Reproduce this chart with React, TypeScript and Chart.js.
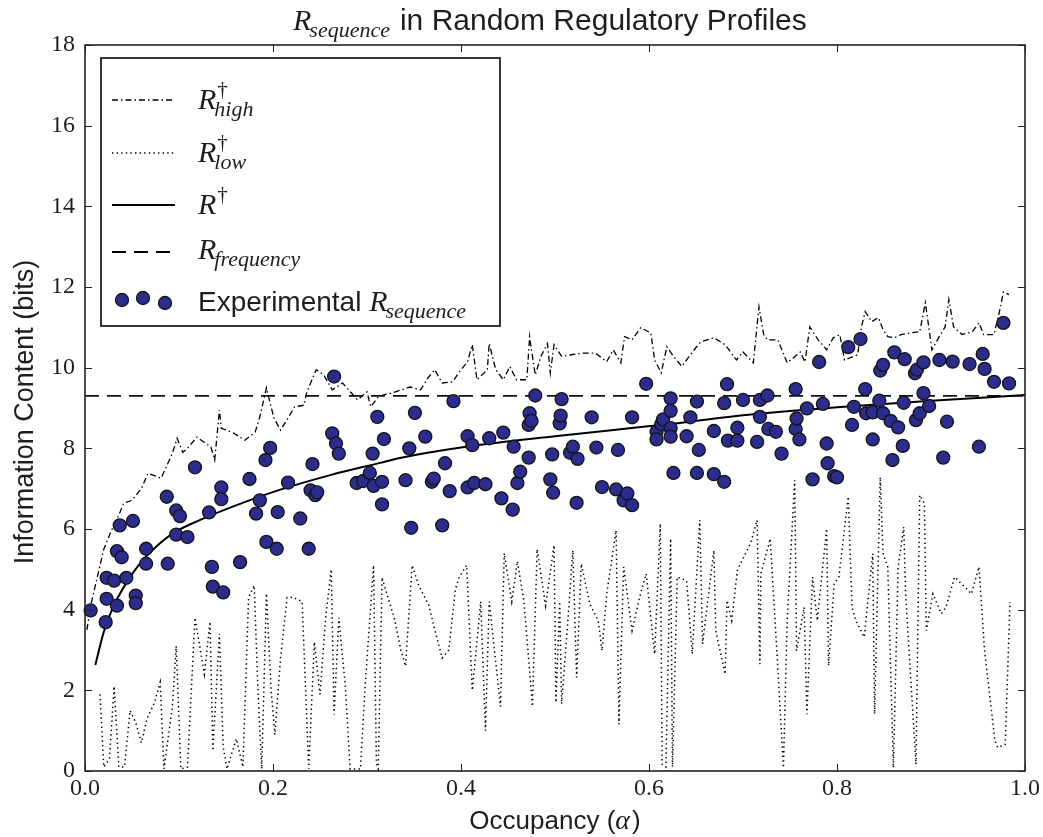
import React, { useEffect, useRef } from 'react';
import { Chart, registerables } from 'chart.js';

Chart.register(...registerables);

// ---------- data ----------
const expX = [
  0.006, 0.022, 0.023, 0.023, 0.031, 0.034, 0.034, 0.037, 0.039, 0.044,
  0.051, 0.054, 0.054, 0.065, 0.065, 0.087, 0.088, 0.097, 0.097, 0.101,
  0.109, 0.117, 0.132, 0.135, 0.136, 0.145, 0.145, 0.147, 0.165, 0.175,
  0.182, 0.186, 0.192, 0.193, 0.197, 0.204, 0.205, 0.216, 0.229, 0.238,
  0.240, 0.242, 0.245, 0.247, 0.263, 0.265, 0.267, 0.270, 0.289, 0.296,
  0.303, 0.306, 0.307, 0.311, 0.316, 0.316, 0.318, 0.341, 0.345, 0.347,
  0.351, 0.362, 0.369, 0.371, 0.380, 0.383, 0.388, 0.392, 0.407, 0.407,
  0.412, 0.414, 0.426, 0.430, 0.443, 0.445, 0.455, 0.456, 0.460, 0.463,
  0.472, 0.472, 0.473, 0.475, 0.479, 0.495, 0.497, 0.498, 0.505, 0.506,
  0.507, 0.516, 0.519, 0.523, 0.524, 0.539, 0.544, 0.550, 0.565, 0.567,
  0.573, 0.577, 0.582, 0.582, 0.597, 0.608, 0.608, 0.613, 0.615, 0.623,
  0.623, 0.623, 0.623, 0.626, 0.640, 0.644, 0.651, 0.651, 0.653, 0.669,
  0.669, 0.680, 0.680, 0.683, 0.684, 0.694, 0.694, 0.700, 0.715, 0.718,
  0.718, 0.726, 0.727, 0.735, 0.741, 0.756, 0.756, 0.757, 0.760, 0.768,
  0.774, 0.781, 0.785, 0.789, 0.790, 0.797, 0.800, 0.812, 0.816, 0.818,
  0.825, 0.830, 0.831, 0.838, 0.838, 0.845, 0.846, 0.849, 0.849, 0.857,
  0.859, 0.861, 0.865, 0.870, 0.871, 0.872, 0.883, 0.884, 0.885, 0.888,
  0.892, 0.892, 0.898, 0.909, 0.913, 0.917, 0.923, 0.941, 0.951, 0.955,
  0.957, 0.967, 0.977, 0.983,
];
const expY = [
  3.98, 3.69, 4.79, 4.27, 4.72, 4.10, 5.45, 6.09, 5.30, 4.79,
  6.20, 4.35, 4.16, 5.51, 5.14, 6.80, 5.14, 6.46, 5.86, 6.32,
  5.80, 7.53, 6.41, 5.06, 4.57, 7.03, 6.74, 4.43, 5.18, 7.24,
  6.38, 6.71, 7.71, 5.68, 8.01, 5.51, 6.42, 7.15, 6.26, 5.51,
  6.96, 7.61, 6.84, 6.91, 8.37, 9.78, 8.12, 7.87, 7.14, 7.19,
  7.39, 7.87, 7.07, 8.78, 7.17, 6.61, 8.23, 7.21, 8.00, 6.03,
  8.88, 8.29, 7.17, 7.25, 6.09, 7.63, 6.94, 9.17, 8.30, 7.03,
  8.08, 7.14, 7.11, 8.25, 6.76, 8.39, 6.48, 8.04, 7.14, 7.42,
  7.77, 8.58, 8.87, 8.68, 9.31, 7.23, 7.85, 6.90, 8.62, 8.81,
  9.22, 7.89, 8.04, 6.65, 7.74, 8.77, 8.02, 7.04, 6.98, 7.96,
  6.71, 6.88, 6.59, 8.77, 9.60, 8.41, 8.22, 8.60, 8.72, 9.24,
  8.93, 8.50, 8.29, 7.39, 8.30, 8.77, 9.16, 7.39, 7.96, 7.36,
  8.43, 7.17, 9.12, 9.59, 8.19, 8.51, 8.19, 9.20, 8.16, 9.20,
  8.78, 9.31, 8.48, 8.41, 7.87, 9.47, 8.48, 8.74, 8.22, 8.99,
  7.23, 10.14, 9.10, 8.12, 7.63, 7.31, 7.28, 10.51, 8.58, 9.03,
  10.71, 9.47, 8.87, 8.89, 8.22, 9.18, 9.93, 8.87, 10.07, 8.68,
  7.71, 10.38, 8.52, 8.06, 9.13, 10.21, 9.86, 8.70, 9.95, 8.87,
  9.37, 10.13, 9.05, 10.19, 7.77, 8.66, 10.15, 10.09, 8.04, 10.34,
  9.97, 9.65, 11.11, 9.61,
];

const rDagX = [0.011, 0.02, 0.03, 0.045, 0.059, 0.075, 0.094, 0.122, 0.16, 0.207, 0.26, 0.314, 0.335, 0.4, 0.5, 0.56, 0.633, 0.7, 0.8, 0.9, 1.0];
const rDagY = [2.63, 3.45, 4.07, 4.7, 5.16, 5.55, 5.9, 6.22, 6.58, 6.97, 7.33, 7.64, 7.76, 8.02, 8.3, 8.45, 8.63, 8.82, 9.02, 9.18, 9.32];

const rFreqX = [0, 1];
const rFreqY = [9.3, 9.3];

const rHighX = [
  0.002, 0.007, 0.015, 0.020, 0.027, 0.037, 0.041, 0.050, 0.060, 0.067,
  0.081, 0.093, 0.098, 0.104, 0.109, 0.119, 0.134, 0.138, 0.143, 0.145,
  0.158, 0.170, 0.181, 0.186, 0.193, 0.197, 0.201, 0.208, 0.216, 0.223,
  0.233, 0.236, 0.246, 0.254, 0.263, 0.274, 0.290, 0.300, 0.304, 0.312,
  0.317, 0.326, 0.346, 0.357, 0.365, 0.372, 0.380, 0.391, 0.400, 0.407,
  0.412, 0.417, 0.428, 0.430, 0.437, 0.445, 0.452, 0.459, 0.470, 0.473,
  0.475, 0.479, 0.485, 0.492, 0.495, 0.499, 0.507, 0.517, 0.530, 0.543,
  0.555, 0.562, 0.570, 0.574, 0.582, 0.591, 0.602, 0.606, 0.613, 0.619,
  0.626, 0.635, 0.644, 0.650, 0.655, 0.669, 0.681, 0.693, 0.700, 0.711,
  0.717, 0.722, 0.726, 0.737, 0.747, 0.761, 0.766, 0.771, 0.780, 0.789,
  0.796, 0.803, 0.808, 0.822, 0.826, 0.830, 0.837, 0.844, 0.849, 0.854,
  0.861, 0.868, 0.878, 0.888, 0.894, 0.901, 0.908, 0.915, 0.919, 0.924,
  0.933, 0.944, 0.951, 0.956, 0.967, 0.974, 0.977, 0.983,
];
const rHighY = [
  3.5, 4.2, 5.0, 5.5, 5.9, 6.4, 6.64, 6.71, 7.0, 7.38,
  7.26, 7.88, 8.25, 7.9, 8.0, 8.28, 8.03, 7.71, 8.95, 8.5,
  8.38, 8.2, 8.4, 8.78, 9.5, 9.12, 8.75, 8.45, 8.75, 9.03,
  9.07, 9.4, 9.95, 9.82, 9.45, 9.62, 9.2, 9.4, 9.03, 9.28,
  9.32, 9.37, 9.52, 9.45, 9.75, 9.95, 9.62, 9.65, 9.95, 10.15,
  10.57, 9.7, 9.95, 10.6, 9.95, 9.7, 10.03, 9.7, 9.7, 10.77,
  10.44, 9.82, 10.28, 10.6, 9.87, 10.57, 10.28, 10.32, 10.36, 10.36,
  10.15, 10.44, 10.12, 10.77, 10.69, 10.99, 10.86, 10.19, 9.87, 10.52,
  10.28, 10.03, 10.32, 10.5, 10.64, 10.74, 10.57, 10.19, 10.39, 10.12,
  11.51, 10.82, 10.69, 10.69, 10.12, 10.39, 10.14, 11.01, 10.69, 10.44,
  10.74, 10.82, 10.19, 10.32, 11.01, 11.39, 11.14, 11.24, 10.94, 10.77,
  10.74, 10.82, 10.86, 10.89, 11.61, 10.44, 10.74, 11.01, 11.69, 11.01,
  10.82, 10.89, 11.11, 10.82, 10.82, 11.51, 11.88, 11.81,
];

const rLowX = [
  0.016, 0.020, 0.026, 0.031, 0.036, 0.042, 0.048, 0.054, 0.060, 0.066,
  0.074, 0.080, 0.084, 0.093, 0.097, 0.102, 0.109, 0.117, 0.122, 0.127,
  0.133, 0.136, 0.143, 0.147, 0.151, 0.161, 0.168, 0.174, 0.180, 0.184,
  0.188, 0.193, 0.198, 0.202, 0.208, 0.215, 0.222, 0.231, 0.238, 0.244,
  0.250, 0.256, 0.262, 0.265, 0.270, 0.277, 0.282, 0.293, 0.298, 0.307,
  0.310, 0.312, 0.316, 0.321, 0.329, 0.336, 0.341, 0.348, 0.355, 0.366,
  0.371, 0.380, 0.387, 0.394, 0.398, 0.406, 0.412, 0.421, 0.426, 0.430,
  0.442, 0.446, 0.454, 0.460, 0.467, 0.476, 0.481, 0.490, 0.499, 0.501,
  0.505, 0.507, 0.513, 0.519, 0.523, 0.528, 0.537, 0.546, 0.550, 0.555,
  0.565, 0.568, 0.573, 0.582, 0.590, 0.597, 0.606, 0.612, 0.614, 0.618,
  0.623, 0.625, 0.630, 0.640, 0.646, 0.654, 0.657, 0.669, 0.671, 0.681,
  0.683, 0.688, 0.694, 0.699, 0.708, 0.715, 0.718, 0.719, 0.729, 0.736,
  0.743, 0.747, 0.755, 0.757, 0.765, 0.768, 0.774, 0.779, 0.789, 0.791,
  0.797, 0.802, 0.812, 0.816, 0.820, 0.829, 0.838, 0.840, 0.846, 0.849,
  0.854, 0.860, 0.865, 0.871, 0.873, 0.884, 0.888, 0.893, 0.895, 0.902,
  0.911, 0.916, 0.925, 0.936, 0.943, 0.951, 0.957, 0.968, 0.971, 0.979,
  0.984,
];
const rLowY = [
  1.9, 0.1, 0.3, 2.1, 0.1, 0.1, 1.5, 1.2, 0.7, 1.3,
  1.7, 2.2, 0.05, 1.6, 3.1, 0.05, 0.1, 3.8, 3.1, 2.4,
  3.7, 0.5, 3.4, 0.6, 0.05, 0.8, 0.1, 4.3, 4.6, 2.0,
  0.05, 4.4, 2.0, 0.9, 2.8, 4.3, 4.3, 4.2, 0.05, 3.2,
  1.9, 3.8, 5.0, 1.4, 3.8, 2.1, 0.05, 0.05, 2.1, 5.1,
  0.2, 0.05, 4.8, 4.4, 3.8, 3.0, 2.6, 5.1, 4.6, 4.1,
  3.6, 2.8, 3.0, 4.5, 4.8, 5.1, 2.0, 4.2, 1.0, 4.2,
  1.6, 5.4, 4.2, 5.2, 4.2, 1.6, 5.5, 4.1, 5.6, 1.7,
  4.2, 1.66, 3.5, 5.47, 2.32, 5.14, 4.14, 3.73, 2.98, 4.39,
  5.97, 1.16, 5.06, 3.48, 4.31, 4.89, 2.9, 6.13, 0.17, 0.1,
  5.76, 0.1, 4.81, 4.72, 2.9, 6.22, 3.15, 5.47, 3.48, 2.4,
  4.23, 3.73, 4.97, 5.22, 5.64, 6.22, 2.65, 4.89, 5.76, 2.98,
  0.08, 3.73, 7.21, 2.98, 4.06, 1.41, 4.81, 3.73, 6.01, 2.61,
  4.64, 4.81, 6.8, 4.06, 3.73, 3.32, 5.39, 1.41, 7.29, 5.39,
  5.06, 0.08, 5.06, 6.05, 4.39, 0.17, 6.84, 6.63, 3.48, 4.39,
  3.9, 4.06, 4.81, 4.56, 4.39, 5.06, 2.98, 0.75, 0.58, 0.66,
  4.19,
];

const xTickValues = [0, 0.2, 0.4, 0.6, 0.8, 1.0];
const yTickValues = [0, 2, 4, 6, 8, 10, 12, 14, 16, 18];

const titleMathBase = 'R';
const titleMathSub = 'sequence';
const titleText = 'in Random Regulatory Profiles';
const xAxisTitleA = 'Occupancy (';
const xAxisTitleSym = 'α';
const xAxisTitleB = ')';
const yAxisTitle = 'Information Content (bits)';
const legendExperimental = 'Experimental ';

// ---------- styles ----------
const SANS = '"Liberation Sans", Arial, sans-serif';
const SERIF = '"Liberation Serif", "Times New Roman", serif';
const TXT = '#1e1e1e';
const DOT_FILL = '#2b2c8e';
const DOT_EDGE = '#151515';
const DASHDOT = [6, 3, 1.5, 3];
const DOTTED = [1.4, 3.2];
const DASHED = [14, 8];

const toPts = (xs: number[], ys: number[]) => xs.map((x, i) => ({ x, y: ys[i] }));

function drawMath(
  ctx: CanvasRenderingContext2D,
  x: number,
  y: number,
  base: string,
  sup: string | null,
  sub: string | null,
  size: number
): number {
  ctx.font = `italic ${size}px ${SERIF}`;
  ctx.fillText(base, x, y);
  const w = ctx.measureText(base).width;
  let end = x + w;
  const x2 = x + w + 1;
  if (sup) {
    ctx.font = `${Math.round(size * 0.7)}px ${SERIF}`;
    ctx.fillText(sup, x2, y - size * 0.42);
    end = Math.max(end, x2 + ctx.measureText(sup).width);
  }
  if (sub) {
    ctx.font = `italic ${Math.round(size * 0.72)}px ${SERIF}`;
    const sx = x2 - size * 0.1;
    ctx.fillText(sub, sx, y + size * 0.24);
    end = Math.max(end, sx + ctx.measureText(sub).width);
  }
  return end;
}

const decorPlugin = {
  id: 'decor',
  afterDatasetsDraw(chart: any) {
    const { ctx, chartArea, scales } = chart;
    const { left, right, top, bottom } = chartArea;
    const xs = scales.x;
    const ys = scales.y;
    ctx.save();

    // frame
    ctx.strokeStyle = '#222';
    ctx.lineWidth = 1.6;
    ctx.setLineDash([]);
    ctx.strokeRect(left, top, right - left, bottom - top);

    // inward ticks on all sides
    ctx.lineWidth = 1;
    const tl = 7;
    ctx.beginPath();
    xTickValues.forEach((v) => {
      const px = Math.round(xs.getPixelForValue(v)) + 0.5;
      ctx.moveTo(px, bottom);
      ctx.lineTo(px, bottom - tl);
      ctx.moveTo(px, top);
      ctx.lineTo(px, top + tl);
    });
    yTickValues.forEach((v) => {
      const py = Math.round(ys.getPixelForValue(v)) + 0.5;
      ctx.moveTo(left, py);
      ctx.lineTo(left + tl, py);
      ctx.moveTo(right, py);
      ctx.lineTo(right - tl, py);
    });
    ctx.stroke();

    // legend box
    const lx = 101, ly = 58, lw = 399, lh = 268;
    ctx.fillStyle = '#ffffff';
    ctx.fillRect(lx, ly, lw, lh);
    ctx.strokeStyle = '#222';
    ctx.lineWidth = 1.8;
    ctx.strokeRect(lx, ly, lw, lh);

    const sx0 = 112, sx1 = 175, tx = 198;
    const rows = [100, 153, 205, 252, 302];
    ctx.strokeStyle = '#000';
    const sample = (y: number, dash: number[], w: number) => {
      ctx.beginPath();
      ctx.setLineDash(dash);
      ctx.lineWidth = w;
      ctx.moveTo(sx0, y);
      ctx.lineTo(sx1, y);
      ctx.stroke();
    };
    sample(rows[0], DASHDOT, 1.3);
    sample(rows[1], DOTTED, 1.5);
    sample(rows[2], [], 2);
    sample(rows[3], DASHED, 1.8);
    ctx.setLineDash([]);
    [[122, 300], [143, 298], [165, 303]].forEach(([cx, cy]) => {
      ctx.beginPath();
      ctx.arc(cx, cy, 6.5, 0, Math.PI * 2);
      ctx.fillStyle = DOT_FILL;
      ctx.fill();
      ctx.lineWidth = 1.3;
      ctx.strokeStyle = DOT_EDGE;
      ctx.stroke();
    });

    ctx.fillStyle = TXT;
    ctx.textBaseline = 'alphabetic';
    ctx.textAlign = 'left';
    drawMath(ctx, tx, rows[0] + 9, 'R', '†', 'high', 30);
    drawMath(ctx, tx, rows[1] + 9, 'R', '†', 'low', 30);
    drawMath(ctx, tx, rows[2] + 9, 'R', '†', null, 30);
    drawMath(ctx, tx, rows[3] + 7, 'R', null, 'frequency', 30);
    ctx.font = `28px ${SANS}`;
    ctx.fillText(legendExperimental, tx, rows[4] + 9);
    const ew = ctx.measureText(legendExperimental).width;
    drawMath(ctx, tx + ew, rows[4] + 9, titleMathBase, null, titleMathSub, 30);

    // title
    const tEnd = drawMath(ctx, 293, 30, titleMathBase, null, titleMathSub, 30);
    ctx.font = `30px ${SANS}`;
    ctx.fillText(titleText, tEnd + 10, 30);

    // x axis title
    ctx.font = `26px ${SANS}`;
    const wa = ctx.measureText(xAxisTitleA).width;
    const wb = ctx.measureText(xAxisTitleB).width;
    ctx.font = `italic 28px ${SERIF}`;
    const ws = ctx.measureText(xAxisTitleSym).width;
    const total = wa + ws + 2 + wb;
    let xx = (left + right) / 2 - total / 2;
    ctx.font = `26px ${SANS}`;
    ctx.fillText(xAxisTitleA, xx, 829);
    xx += wa;
    ctx.font = `italic 28px ${SERIF}`;
    ctx.fillText(xAxisTitleSym, xx, 829);
    xx += ws + 2;
    ctx.font = `26px ${SANS}`;
    ctx.fillText(xAxisTitleB, xx, 829);

    // y axis title
    ctx.save();
    ctx.translate(33, (top + bottom) / 2 + 4);
    ctx.rotate(-Math.PI / 2);
    ctx.font = `27px ${SANS}`;
    ctx.textAlign = 'center';
    ctx.fillText(yAxisTitle, 0, 0);
    ctx.restore();

    ctx.restore();
  },
};

export default function App() {
  const ref = useRef<HTMLCanvasElement | null>(null);

  useEffect(() => {
    document.body.style.margin = '0';
    const canvas = ref.current;
    if (!canvas) return;
    const chart = new Chart(canvas, {
      type: 'scatter',
      data: {
        datasets: [
          {
            label: 'Experimental R_sequence',
            data: toPts(expX, expY),
            showLine: false,
            pointRadius: 6.5,
            pointHoverRadius: 6.5,
            pointBackgroundColor: DOT_FILL,
            pointBorderColor: DOT_EDGE,
            pointBorderWidth: 1.3,
            clip: false,
            order: 0,
          } as any,
          {
            label: 'R†',
            data: toPts(rDagX, rDagY),
            showLine: true,
            pointRadius: 0,
            borderColor: '#000',
            borderWidth: 2,
            cubicInterpolationMode: 'monotone',
            order: 1,
          } as any,
          {
            label: 'R_frequency',
            data: toPts(rFreqX, rFreqY),
            showLine: true,
            pointRadius: 0,
            borderColor: '#111',
            borderWidth: 1.8,
            borderDash: DASHED,
            order: 2,
          } as any,
          {
            label: 'R†_high',
            data: toPts(rHighX, rHighY),
            showLine: true,
            pointRadius: 0,
            borderColor: '#000',
            borderWidth: 1.3,
            borderDash: DASHDOT,
            tension: 0,
            order: 3,
          } as any,
          {
            label: 'R†_low',
            data: toPts(rLowX, rLowY),
            showLine: true,
            pointRadius: 0,
            borderColor: '#000',
            borderWidth: 1.5,
            borderDash: DOTTED,
            tension: 0,
            order: 4,
          } as any,
        ],
      },
      options: {
        responsive: false,
        animation: false,
        layout: { padding: { left: 0, right: 18, top: 45, bottom: 0 } },
        plugins: {
          legend: { display: false },
          tooltip: { enabled: false },
          title: { display: false },
        },
        scales: {
          x: {
            type: 'linear',
            min: 0,
            max: 1,
            grid: { display: false, drawTicks: false },
            border: { display: false },
            afterFit: (s: any) => {
              s.height = 66;
            },
            ticks: {
              stepSize: 0.2,
              padding: 3,
              color: TXT,
              font: { family: SERIF, size: 24 },
              callback: (v: any) => Number(v).toFixed(1),
            },
          },
          y: {
            type: 'linear',
            min: 0,
            max: 18,
            grid: { display: false, drawTicks: false },
            border: { display: false },
            afterFit: (s: any) => {
              s.width = 85;
            },
            ticks: {
              stepSize: 2,
              padding: 10,
              color: TXT,
              font: { family: SERIF, size: 24 },
              callback: (v: any) => String(Math.round(Number(v))),
            },
          },
        },
      },
      plugins: [decorPlugin],
    });
    return () => chart.destroy();
  }, []);

  return (
    <div style={{ position: 'absolute', left: 0, top: 0, width: 1043, height: 837, background: '#fff' }}>
      <canvas ref={ref} width={1043} height={837} style={{ display: 'block' }} />
    </div>
  );
}
